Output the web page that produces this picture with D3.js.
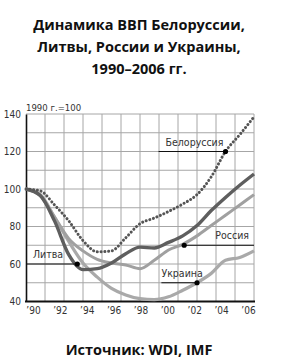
<!DOCTYPE html>
<html>
<head>
<meta charset="utf-8">
<script src="https://cdn.jsdelivr.net/npm/d3@7"></script>
<style>
  body { margin: 0; background: #fff; }
  .title, .source { font-family: "Open Sans", sans-serif; font-weight: 700; fill: #111; }
  .small { font-family: "Liberation Sans Narrow", "DejaVu Sans Condensed", sans-serif; fill: #333; }
</style>
</head>
<body>
<div class="viz"></div>
<script>
// data (1990 = 100)
var years = d3.range(1990, 2007)
var belarus   = [100, 99, 91.5, 83, 72.5, 66.5, 67, 74, 81.5, 84.5, 88, 92, 97, 106.5, 120, 129, 138.5]
var lithuania = [100, 96.5, 83, 65, 57, 57.5, 60.5, 65.5, 69, 68.5, 71.5, 75, 80.5, 88.5, 95.5, 102, 108]
var russia    = [100, 96.5, 85, 73.5, 67, 62.5, 60.5, 59.5, 57.5, 62, 67.5, 70.5, 75, 80.5, 86, 91.5, 97]
var ukraine   = [100, 97, 85, 72, 60.5, 53, 47, 43.5, 41.5, 41, 42.5, 46, 50, 55, 62, 63.5, 67]
var yTicks = [40, 60, 80, 100, 120, 140]
var xTicks = [1990, 1992, 1994, 1996, 1998, 2000, 2002, 2004, 2006]
// label anchors: name, year and value of the dot, year where the leader line ends
var labels = [
  {name: "Белоруссия", year: 2004, value: 120, lineTo: 1999.3},
  {name: "Литва", year: 1993.6, value: 60, lineTo: 1990},
  {name: "Россия", year: 2001.1, value: 70, lineTo: 2006},
  {name: "Украина", year: 2002, value: 50, lineTo: 1999.5}
]

var margin = {top: 114, left: 26},
    width = 228,
    height = 187.5

var svgRoot = d3.select(".viz")
  .append("svg")
    .attr("width", 288)
    .attr("height", 360)

// title
var titleLines = ["Динамика ВВП Белоруссии,", "Литвы, России и Украины,", "1990–2006 гг."]
svgRoot.selectAll("text.title")
  .data(titleLines)
  .enter().append("text")
    .attr("class", "title")
    .attr("x", 139)
    .attr("y", (d, i) => 29.5 + i * 22)
    .attr("text-anchor", "middle")
    .style("font-size", "14.5px")
    .text(d => d)

svgRoot.append("text")
    .attr("class", "source")
    .attr("x", 139)
    .attr("y", 355)
    .attr("text-anchor", "middle")
    .style("font-size", "14.5px")
    .text("Источник: WDI, IMF")

var svg = svgRoot.append("g")
    .attr("transform", "translate(" + margin.left + "," + margin.top + ")")

var x = d3.scaleLinear().domain([1990, 2006]).range([0, width])
var y = d3.scaleLinear().domain([40, 140]).range([height, 0])

// grid: 12 columns, rows every 10
svg.append("g")
  .selectAll("line")
  .data(d3.range(1, 13))
  .enter().append("line")
    .attr("x1", d => x(1990 + d * 16 / 12))
    .attr("x2", d => x(1990 + d * 16 / 12))
    .attr("y1", 0)
    .attr("y2", height)
    .attr("stroke", "#a6a6a6")
    .attr("stroke-width", 1)

svg.append("g")
  .selectAll("line")
  .data(d3.range(50, 141, 10))
  .enter().append("line")
    .attr("x1", 0)
    .attr("x2", width)
    .attr("y1", d => y(d))
    .attr("y2", d => y(d))
    .attr("stroke", "#a6a6a6")
    .attr("stroke-width", 1)

// axes
svg.append("g")
    .call(d3.axisLeft(y).tickValues(yTicks).tickSize(0).tickPadding(5))
    .call(g => g.select(".domain").attr("stroke", "#111").attr("stroke-width", 1.6))
    .call(g => g.selectAll("text").attr("class", "small").style("font-size", "10px").attr("font-family", null))

var xLab = x.copy().range([7, width - 6])
svg.append("g")
    .attr("transform", "translate(0," + height + ")")
    .call(d3.axisBottom(xLab).tickValues(xTicks).tickSize(0).tickPadding(5)
      .tickFormat(d => "’" + String(d).slice(2)))
    .call(g => g.select(".domain").remove())
    .call(g => g.selectAll("text").attr("class", "small").style("font-size", "10px").attr("font-family", null))

svg.append("line")
    .attr("x1", -1).attr("x2", width + 1)
    .attr("y1", height).attr("y2", height)
    .attr("stroke", "#111")
    .attr("stroke-width", 2)

svg.append("text")
    .attr("class", "small")
    .attr("x", 0)
    .attr("y", -3)
    .style("font-size", "9.5px")
    .text("1990 г.=100")

// lines
var line = d3.line()
    .x((d, i) => x(years[i]))
    .y(d => y(d))
    .curve(d3.curveMonotoneX)

svg.append("path").datum(ukraine)
    .attr("fill", "none").attr("stroke", "#a9a9a9").attr("stroke-width", 3.2)
    .attr("d", line)
svg.append("path").datum(russia)
    .attr("fill", "none").attr("stroke", "#a0a0a0").attr("stroke-width", 3)
    .attr("d", line)
svg.append("path").datum(lithuania)
    .attr("fill", "none").attr("stroke", "#5e5e5e").attr("stroke-width", 3.4)
    .attr("d", line)
svg.append("path").datum(belarus)
    .attr("fill", "none").attr("stroke", "#555").attr("stroke-width", 3)
    .attr("stroke-linecap", "round")
    .attr("stroke-dasharray", "0.1,3.7")
    .attr("d", line)

// labels with leader lines and dots
var lab = svg.selectAll("g.lab")
  .data(labels)
  .enter().append("g")
    .attr("class", "lab")

lab.append("line")
    .attr("x1", d => x(d.lineTo))
    .attr("x2", d => x(d.year))
    .attr("y1", d => y(d.value))
    .attr("y2", d => y(d.value))
    .attr("stroke", "#111")
    .attr("stroke-width", 1.1)

lab.append("circle")
    .attr("cx", d => x(d.year))
    .attr("cy", d => y(d.value))
    .attr("r", 2.6)
    .attr("fill", "#000")

lab.append("text")
    .attr("class", "small")
    .style("font-size", "10.5px")
    .attr("x", d => d.name == "Россия" ? x(d.lineTo) - 5 : x(Math.min(d.lineTo, d.year)) + (d.name == "Украина" ? 0 : 7))
    .attr("y", d => y(d.value) - 6)
    .attr("text-anchor", d => d.name == "Россия" ? "end" : "start")
    .text(d => d.name)
</script>
</body>
</html>
